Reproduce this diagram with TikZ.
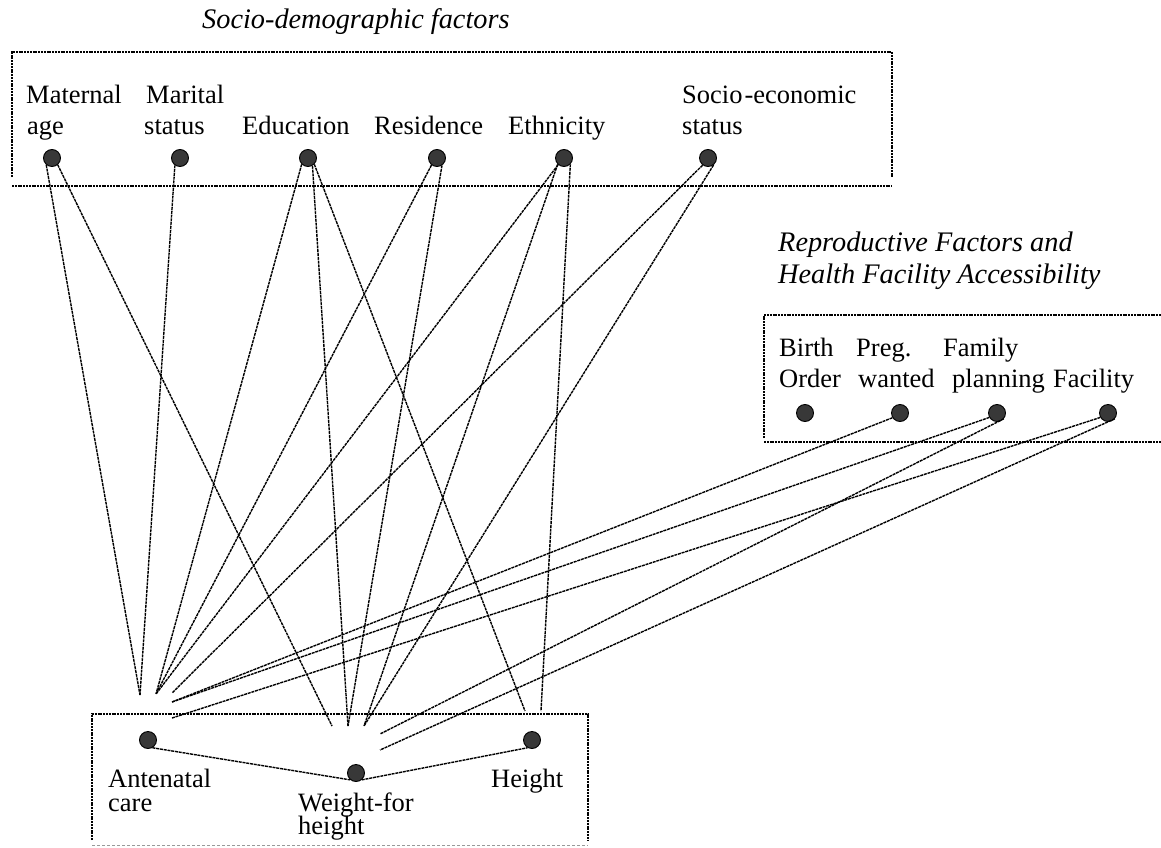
\documentclass[tikz,border=0pt]{standalone}
\usepackage{fontspec}
\setmainfont{Liberation Serif}
\begin{document}
\begin{tikzpicture}[x=1pt,y=-1pt,
  lbl/.style={anchor=base west, inner sep=0pt, font=\fontsize{26.5}{32}\selectfont},
  ttl/.style={anchor=base west, inner sep=0pt, font=\fontsize{28.3}{34}\selectfont\itshape},
  dot/.style={circle, draw=black, line width=0.9pt, fill=black!78, minimum size=17pt, inner sep=0pt},
  frame/.style={line width=1.4pt, dash pattern=on 2pt off 0.8pt},
  faint/.style={line width=1pt, draw=black!40, dash pattern=on 3pt off 2pt},
  link/.style={line width=1.4pt, dash pattern=on 3pt off 0.8pt},
]
\useasboundingbox (0,0) rectangle (1161,848);

% ---- titles
\node[ttl] (t1) at (202,29) {Socio-demographic factors};
\node[ttl] (t2a) at (778,251) {Reproductive Factors and};
\node[ttl] (t2b) at (778,283) {Health Facility Accessibility};

% ---- frames
\draw[frame] (12,177) -- (12,52) -- (892,52) -- (892,177);
\draw[frame] (12,186) -- (892,186);
\draw[frame] (764,438) -- (764,315) -- (1161,315);
\draw[frame] (764,442) -- (1161,442);
\draw[frame] (92,840) -- (92,714) -- (588,714) -- (588,840);
\draw[faint] (92,845) -- (588,845);

% ---- top labels
\node[lbl] (l1a) at (26,103) {Maternal};
\node[lbl] (l1b) at (27,135) {age};
\node[lbl] (l2a) at (146,103) {Marital};
\node[lbl] (l2b) at (144,135) {status};
\node[lbl] (l3) at (242,135) {Education};
\node[lbl] (l4) at (374,135) {Residence};
\node[lbl] (l5) at (508,135) {Ethnicity};
\node[lbl] (l6a) at (682,103) {Socio\kern2pt-economic};
\node[lbl] (l6b) at (682,135) {status};

% ---- right labels
\node[lbl] (r1a) at (779,356) {Birth};
\node[lbl] (r1b) at (779,387) {Order};
\node[lbl] (r2a) at (856,356) {Preg.};
\node[lbl] (r2b) at (858,387) {wanted};
\node[lbl] (r3a) at (943,356) {Family};
\node[lbl] (r3b) at (952,387) {planning};
\node[lbl] (r4) at (1053,387) {Facility};

% ---- bottom labels
\node[lbl] (b1a) at (108,787) {Antenatal};
\node[lbl] (b1b) at (108,811) {care};
\node[lbl] (b2a) at (298,811) {Weight-for};
\node[lbl] (b2b) at (298,834) {height};
\node[lbl] (b3) at (491,787) {Height};

% ---- dots
\node[dot] (ma) at (52,158) {};
\node[dot] (mt) at (180,158) {};
\node[dot] (ed) at (308,158) {};
\node[dot] (rs) at (437,158) {};
\node[dot] (et) at (564,158) {};
\node[dot] (se) at (708,158) {};
\node[dot] (bo) at (805,413) {};
\node[dot] (pw) at (900,413) {};
\node[dot] (fp) at (997,413) {};
\node[dot] (fa) at (1108,413) {};
\node[dot] (ac) at (148,740) {};
\node[dot] (wh) at (356,773) {};
\node[dot] (ht) at (532,740) {};

% ---- free ends of the connectors
\coordinate (a1) at (140,695);
\coordinate (a2) at (156,694);
\coordinate (a3) at (172,693);
\coordinate (a4) at (172,702);
\coordinate (a5) at (172,718);
\coordinate (w1) at (332,726);
\coordinate (w2) at (348,726);
\coordinate (w3) at (364,726);
\coordinate (w4) at (380,734);
\coordinate (w5) at (380,750);
\coordinate (h1) at (525,711);
\coordinate (h2) at (541,711);

% ---- connectors
\draw[link] (ma.-130) -- (a1);
\draw[link] (ma.-50) -- (w1);
\draw[link] (mt.-125) -- (a1);
\draw[link] (ed.-135) -- (a2);
\draw[link] (ed.-60) -- (w2);
\draw[link] (ed.-45) -- (h1);
\draw[link] (rs.-128) -- (a2);
\draw[link] (rs.-56) -- (w2);
\draw[link] (et.-131) -- (a2);
\draw[link] (et.-135) -- (w3);
\draw[link] (et.-45) -- (h2);
\draw[link] (se.-127) -- (a3);
\draw[link] (se.-52) -- (w3);
\draw[link] (pw.-148) -- (a4);
\draw[link] (fp.-150) -- (a4);
\draw[link] (fp.-40) -- (w4);
\draw[link] (fa.-150) -- (a5);
\draw[link] (fa.-40) -- (w5);
\draw[link] (ac.-60) -- (wh.-130);
\draw[link] (wh.-50) -- (ht.-120);
\end{tikzpicture}
\end{document}
